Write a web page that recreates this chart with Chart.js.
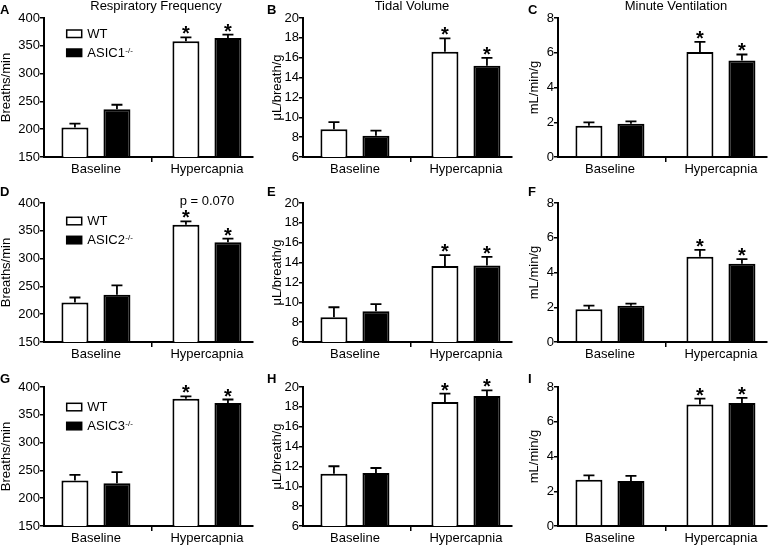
<!DOCTYPE html>
<html><head><meta charset="utf-8">
<script src="https://cdn.jsdelivr.net/npm/chart.js@4.4.0/dist/chart.umd.min.js"></script>
<style>
html,body{margin:0;padding:0;}
body{width:770px;height:545px;overflow:hidden;background:#fff;position:relative;}
canvas{position:absolute;}
</style></head><body>
<script>
// ---------- data ----------
const categories = ['Baseline', 'Hypercapnia'];
const columnTitles = ['Respiratory Frequency', 'Tidal Volume', 'Minute Ventilation'];
const yAxisTitles = ['Breaths/min', 'μL/breath/g', 'mL/min/g'];
const yMins = [150, 6, 0];
const yMaxs = [400, 20, 8];
const ySteps = [50, 2, 2];
const knockoutNames = ['ASIC1', 'ASIC2', 'ASIC3'];
const panelLetters = [['A', 'B', 'C'], ['D', 'E', 'F'], ['G', 'H', 'I']];
const significant = [false, true];
const pValueNote = 'p = 0.070';

// Row 1: ASIC1
const freqWT1 = [203, 358], freqWT1Err = [7, 7], freqKO1 = [236, 364], freqKO1Err = [8, 6];
const tidalWT1 = [8.8, 16.6], tidalWT1Err = [0.72, 1.35], tidalKO1 = [8.15, 15.2], tidalKO1Err = [0.5, 0.78];
const minuteWT1 = [1.8, 6.05], minuteWT1Err = [0.19, 0.58], minuteKO1 = [1.92, 5.55], minuteKO1Err = [0.13, 0.35];
// Row 2: ASIC2
const freqWT2 = [221, 361], freqWT2Err = [9, 6], freqKO2 = [235, 329.5], freqKO2Err = [17, 6.5];
const tidalWT2 = [8.5, 13.65], tidalWT2Err = [1.0, 1.1], tidalKO2 = [9.1, 13.7], tidalKO2Err = [0.72, 0.88];
const minuteWT2 = [1.88, 4.9], minuteWT2Err = [0.21, 0.4], minuteKO2 = [2.08, 4.5], minuteKO2Err = [0.13, 0.27];
// Row 3: ASIC3
const freqWT3 = [232, 379], freqWT3Err = [10, 4], freqKO3 = [227, 371], freqKO3Err = [20, 6.5];
const tidalWT3 = [11.27, 18.49], tidalWT3Err = [0.75, 0.84], tidalKO3 = [11.34, 19.09], tidalKO3Err = [0.5, 0.57];
const minuteWT3 = [2.66, 7.0], minuteWT3Err = [0.25, 0.33], minuteKO3 = [2.59, 7.08], minuteKO3Err = [0.29, 0.29];

const panelData = [
  [{wt: freqWT1, wtErr: freqWT1Err, ko: freqKO1, koErr: freqKO1Err},
   {wt: tidalWT1, wtErr: tidalWT1Err, ko: tidalKO1, koErr: tidalKO1Err},
   {wt: minuteWT1, wtErr: minuteWT1Err, ko: minuteKO1, koErr: minuteKO1Err}],
  [{wt: freqWT2, wtErr: freqWT2Err, ko: freqKO2, koErr: freqKO2Err},
   {wt: tidalWT2, wtErr: tidalWT2Err, ko: tidalKO2, koErr: tidalKO2Err},
   {wt: minuteWT2, wtErr: minuteWT2Err, ko: minuteKO2, koErr: minuteKO2Err}],
  [{wt: freqWT3, wtErr: freqWT3Err, ko: freqKO3, koErr: freqKO3Err},
   {wt: tidalWT3, wtErr: tidalWT3Err, ko: tidalKO3, koErr: tidalKO3Err},
   {wt: minuteWT3, wtErr: minuteWT3Err, ko: minuteKO3, koErr: minuteKO3Err}]
];

// ---------- layout ----------
const FONT = '"Liberation Sans", Arial, Helvetica, sans-serif';
const colAxisX = [44, 303, 558];
const rowPlotTop = [18, 203, 387];
const rowPadTop = [18, 24, 24];
const PLOT_H = 139, PLOT_W = 209, YW = 44, XH = 24;
const colRightPad = [6, 6, 2];
const titleDx = [112, 109, 118];
const titleBaseline = 10;
const letterDx = [-44, -36, -30];
const letterDy = [-4, -7, -4];
const yTitlePad = [0, 12, 13.5];
const legendDy = [12, 14.3, 16.3];
const legendGap = 19;

Chart.defaults.font.family = FONT;
Chart.defaults.font.size = 13;
Chart.defaults.color = '#000';

function makeDecor(r, c) {
  return {
    id: 'decor' + r + c,
    afterDatasetsDraw(chart) {
      const ctx = chart.ctx, ca = chart.chartArea, ys = chart.scales.y, xs = chart.scales.x;
      ctx.save();
      ctx.strokeStyle = '#000';
      ctx.fillStyle = '#000';
      ctx.lineWidth = 1.8;
      chart.data.datasets.forEach((ds, di) => {
        const meta = chart.getDatasetMeta(di);
        meta.data.forEach((bar, i) => {
          const v = ds.data[i].y, e = ds.errors[i];
          const yTop = ys.getPixelForValue(v + e);
          ctx.beginPath();
          ctx.moveTo(bar.x, bar.y);
          ctx.lineTo(bar.x, yTop);
          ctx.moveTo(bar.x - 5.5, yTop);
          ctx.lineTo(bar.x + 5.5, yTop);
          ctx.stroke();
          if (significant[i]) {
            ctx.font = 'bold 20px ' + FONT;
            ctx.textAlign = 'center';
            ctx.textBaseline = 'alphabetic';
            const m = ctx.measureText('*');
            ctx.fillText('*', bar.x, yTop - 3 - m.actualBoundingBoxDescent);
          }
        });
      });
      // p value note (row 2, first column)
      if (r === 1 && c === 0) {
        ctx.font = '13px ' + FONT;
        ctx.textAlign = 'center';
        ctx.textBaseline = 'alphabetic';
        ctx.fillText(pValueNote, xs.getPixelForValue(1), ca.top + 2);
      }
      // column titles
      if (r === 0) {
        ctx.font = '13px ' + FONT;
        ctx.textAlign = 'center';
        ctx.textBaseline = 'alphabetic';
        ctx.fillText(columnTitles[c], ca.left + titleDx[c], titleBaseline);
      }
      // panel letter
      ctx.font = 'bold 13px ' + FONT;
      ctx.textAlign = 'left';
      ctx.textBaseline = 'alphabetic';
      ctx.fillText(panelLetters[r][c], ca.left + letterDx[c], ca.top + letterDy[r]);
      // legend (first column)
      if (c === 0) {
        const bx = ca.left + 22.7, bw = 15, bh = 7.5;
        const labels = ['WT', knockoutNames[r]];
        labels.forEach((lab, k) => {
          const by = ca.top + legendDy[r] + k * legendGap;
          ctx.lineWidth = 1.5;
          ctx.fillStyle = k === 0 ? '#fff' : '#000';
          ctx.fillRect(bx, by, bw, bh);
          ctx.strokeRect(bx, by, bw, bh);
          ctx.fillStyle = '#000';
          ctx.font = '13px ' + FONT;
          ctx.textAlign = 'left';
          const tx = bx + 20.6, base = by + bh;
          ctx.fillText(lab, tx, base);
          if (k === 1) {
            const w = ctx.measureText(lab).width;
            ctx.font = '8px ' + FONT;
            ctx.fillText('-/-', tx + w + 0.5, base - 4);
          }
        });
      }
      ctx.restore();
    }
  };
}

for (let r = 0; r < 3; r++) {
  for (let c = 0; c < 3; c++) {
    const d = panelData[r][c];
    const cv = document.createElement('canvas');
    const w = YW + PLOT_W + colRightPad[c];
    const h = rowPadTop[r] + PLOT_H + XH;
    cv.width = w; cv.height = h;
    cv.style.width = w + 'px'; cv.style.height = h + 'px';
    cv.style.left = (colAxisX[c] - YW) + 'px';
    cv.style.top = (rowPlotTop[r] - rowPadTop[r]) + 'px';
    document.body.appendChild(cv);

    new Chart(cv, {
      type: 'bar',
      data: {
        datasets: [
          {label: 'WT', data: d.wt.map((v, i) => ({x: i, y: v})), errors: d.wtErr,
           backgroundColor: '#fff', borderColor: '#000', borderWidth: 2, borderSkipped: 'start'},
          {label: knockoutNames[r] + '-/-', data: d.ko.map((v, i) => ({x: i, y: v})), errors: d.koErr,
           backgroundColor: '#000', borderColor: '#000', borderWidth: 2, borderSkipped: 'start'}
        ]
      },
      options: {
        responsive: false,
        animation: false,
        devicePixelRatio: 1,
        categoryPercentage: 0.757,
        barPercentage: 0.643,
        layout: {padding: {top: rowPadTop[r], right: colRightPad[c], left: 0, bottom: 0}},
        plugins: {legend: {display: false}, tooltip: {enabled: false}, title: {display: false}},
        scales: {
          x: {
            type: 'linear', min: -0.468, max: 1.415, offset: false,
            grid: {display: true, drawOnChartArea: false, drawTicks: true, tickLength: 5, color: '#000', lineWidth: 1.5},
            border: {display: true, color: '#000', width: 2},
            ticks: {autoSkip: false, maxRotation: 0, padding: 0, font: {size: 13},
                    callback: (v) => categories[v]},
            afterBuildTicks: (s) => { s.ticks = categories.map((_, i) => ({value: i})); },
            afterFit: (s) => { s.height = XH; }
          },
          y: {
            min: yMins[c], max: yMaxs[c],
            ticks: {stepSize: ySteps[c], padding: 0, font: {size: 13}},
            grid: {display: true, drawOnChartArea: false, drawTicks: true, tickLength: 4, color: '#000', lineWidth: 1.5},
            border: {display: true, color: '#000', width: 2},
            title: {display: true, text: yAxisTitles[c], font: {size: 13, lineHeight: 1}, padding: {top: yTitlePad[c], bottom: 0}},
            afterFit: (s) => { s.width = YW; }
          }
        }
      },
      plugins: [makeDecor(r, c)]
    });
  }
}
</script>
</body></html>
